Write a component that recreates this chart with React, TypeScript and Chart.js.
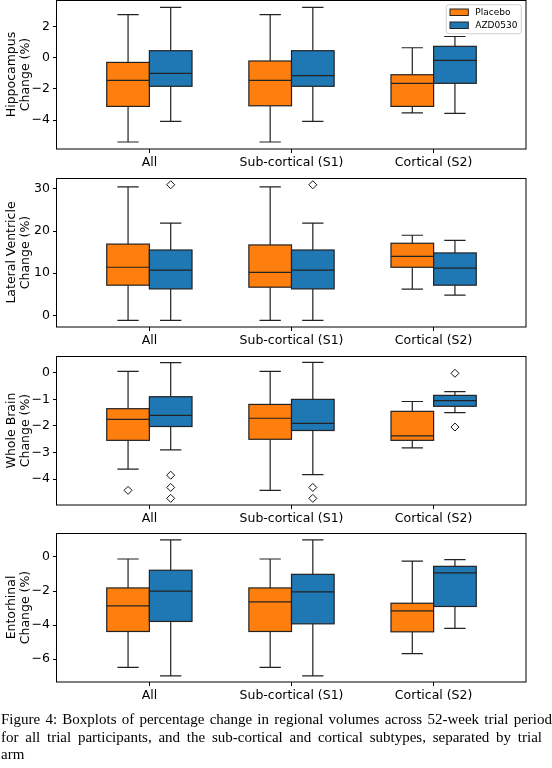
import React, { useEffect, useRef } from 'react';
import { Chart, registerables } from 'chart.js';

Chart.register(...registerables);

const categories = ['All', 'Sub-cortical (S1)', 'Cortical (S2)'];
const arms = ['Placebo', 'AZD0530'];
const armColors = ['#ff7f0e', '#1f77b4'];

// each row: [whisker low, Q1, median, Q3, whisker high]
const hippocampusPlacebo = [
  [-5.4, -3.12, -1.45, -0.3, 2.76],
  [-5.4, -3.08, -1.45, -0.21, 2.76],
  [-3.53, -3.12, -1.64, -1.09, 0.64],
];
const hippocampusAZD = [
  [-4.08, -1.83, -1.0, 0.45, 3.23],
  [-4.08, -1.83, -1.15, 0.45, 3.23],
  [-3.57, -1.64, -0.17, 0.73, 1.36],
];
const hippocampusPlaceboOut: number[][] = [[], [], []];
const hippocampusAZDOut: number[][] = [[], [], []];

const ventriclePlacebo = [
  [-1.2, 7.14, 11.4, 16.9, 30.5],
  [-1.2, 6.67, 10.2, 16.7, 30.5],
  [6.2, 11.4, 14.0, 17.1, 19.0],
];
const ventricleAZD = [
  [-1.2, 6.26, 10.7, 15.5, 21.9],
  [-1.2, 6.26, 10.7, 15.5, 21.9],
  [4.76, 7.14, 11.2, 14.8, 17.8],
];
const ventriclePlaceboOut: number[][] = [[], [], []];
const ventricleAZDOut: number[][] = [[31.0], [31.0], []];

const brainPlacebo = [
  [-3.62, -2.54, -1.75, -1.35, 0.05],
  [-4.42, -2.5, -1.71, -1.19, 0.05],
  [-2.82, -2.54, -2.37, -1.45, -1.08],
];
const brainAZD = [
  [-2.9, -2.02, -1.6, -0.9, 0.38],
  [-3.83, -2.17, -1.9, -1.0, 0.39],
  [-1.5, -1.26, -1.05, -0.85, -0.71],
];
const brainPlaceboOut: number[][] = [[-4.42], [], []];
const brainAZDOut: number[][] = [[-3.85, -4.31, -4.72], [-4.31, -4.72], [-0.02, -2.04]];

const entorhinalPlacebo = [
  [-6.49, -4.38, -2.87, -1.82, -0.12],
  [-6.49, -4.38, -2.64, -1.82, -0.12],
  [-5.68, -4.4, -3.17, -2.72, -0.24],
];
const entorhinalAZD = [
  [-6.99, -3.79, -2.01, -0.78, 1.0],
  [-6.99, -3.93, -2.05, -1.02, 1.0],
  [-4.2, -2.91, -0.94, -0.55, -0.16],
];
const entorhinalPlaceboOut: number[][] = [[], [], []];
const entorhinalAZDOut: number[][] = [[], [], []];

const hippocampusTicks = [-4, -2, 0, 2];
const ventricleTicks = [0, 10, 20, 30];
const brainTicks = [-4, -3, -2, -1, 0];
const entorhinalTicks = [-6, -4, -2, 0];

const captionLines = [
  'Figure 4: Boxplots of percentage change in regional volumes across 52-week trial period',
  'for all trial participants, and the sub-cortical and cortical subtypes, separated by trial',
  'arm',
];

type Panel = {
  title: string[];
  stats: number[][][];
  outliers: number[][][];
  yMin: number;
  yMax: number;
  ticks: number[];
  top: number;
  legend: boolean;
};

const panels: Panel[] = [
  { title: ['Hippocampus', 'Change (%)'], stats: [hippocampusPlacebo, hippocampusAZD], outliers: [hippocampusPlaceboOut, hippocampusAZDOut], yMin: -5.85, yMax: 3.7, ticks: hippocampusTicks, top: 0, legend: true },
  { title: ['Lateral Ventricle', 'Change (%)'], stats: [ventriclePlacebo, ventricleAZD], outliers: [ventriclePlaceboOut, ventricleAZDOut], yMin: -2.79, yMax: 32.6, ticks: ventricleTicks, top: 178.3, legend: false },
  { title: ['Whole Brain', 'Change (%)'], stats: [brainPlacebo, brainAZD], outliers: [brainPlaceboOut, brainAZDOut], yMin: -4.97, yMax: 0.63, ticks: brainTicks, top: 356, legend: false },
  { title: ['Entorhinal', 'Change (%)'], stats: [entorhinalPlacebo, entorhinalAZD], outliers: [entorhinalPlaceboOut, entorhinalAZDOut], yMin: -7.35, yMax: 1.41, ticks: entorhinalTicks, top: 533.3, legend: false },
];

const BOX_W = 0.3;
const PAD_TOP = 6;
const PLOT_H = 149;
const XAXIS_H = 24;
const CANVAS_H = PAD_TOP + PLOT_H + XAXIS_H;
const EDGE = '#222222';
const FONT = 'DejaVu Sans';

function armLeft(arm: number, cat: number) {
  return arm === 0 ? cat - BOX_W : cat;
}

function makePlugin(panel: Panel) {
  return {
    id: 'boxplot',
    beforeDatasetsDraw(chart: any) {
      const ctx = chart.ctx as CanvasRenderingContext2D;
      const xs = chart.scales.x;
      const ys = chart.scales.y;
      const a = chart.chartArea;
      ctx.save();
      ctx.beginPath();
      ctx.rect(a.left, a.top, a.right - a.left, a.bottom - a.top);
      ctx.clip();
      ctx.lineWidth = 1.2;
      ctx.strokeStyle = EDGE;
      panel.stats.forEach((armStats, arm) => {
        armStats.forEach((s, cat) => {
          const [lo, q1, med, q3, hi] = s;
          const l = armLeft(arm, cat);
          const c = l + BOX_W / 2;
          const px = xs.getPixelForValue(c);
          const capL = xs.getPixelForValue(c - BOX_W / 4);
          const capR = xs.getPixelForValue(c + BOX_W / 4);
          ctx.beginPath();
          ctx.moveTo(px, ys.getPixelForValue(q1));
          ctx.lineTo(px, ys.getPixelForValue(lo));
          ctx.moveTo(px, ys.getPixelForValue(q3));
          ctx.lineTo(px, ys.getPixelForValue(hi));
          ctx.moveTo(capL, ys.getPixelForValue(lo));
          ctx.lineTo(capR, ys.getPixelForValue(lo));
          ctx.moveTo(capL, ys.getPixelForValue(hi));
          ctx.lineTo(capR, ys.getPixelForValue(hi));
          ctx.stroke();
          const bx0 = xs.getPixelForValue(l);
          const bx1 = xs.getPixelForValue(l + BOX_W);
          const by0 = ys.getPixelForValue(q3);
          const by1 = ys.getPixelForValue(q1);
          ctx.fillStyle = armColors[arm];
          ctx.fillRect(bx0, by0, bx1 - bx0, by1 - by0);
          ctx.strokeRect(bx0, by0, bx1 - bx0, by1 - by0);
          ctx.beginPath();
          ctx.moveTo(bx0, ys.getPixelForValue(med));
          ctx.lineTo(bx1, ys.getPixelForValue(med));
          ctx.stroke();
        });
      });
      ctx.restore();
    },
    afterDraw(chart: any) {
      const ctx = chart.ctx as CanvasRenderingContext2D;
      const a = chart.chartArea;
      ctx.save();
      ctx.strokeStyle = '#000';
      ctx.lineWidth = 1;
      ctx.strokeRect(Math.round(a.left) - 0.5, Math.round(a.top) + 0.5, Math.round(a.right - a.left) + 0.5, Math.round(a.bottom - a.top) - 0.5);
      if (panel.legend) {
        const lw = 75;
        const lh = 29;
        const lx = a.right - 4.7 - lw;
        const ly = a.top + 4.7;
        ctx.beginPath();
        if ((ctx as any).roundRect) (ctx as any).roundRect(lx, ly, lw, lh, 2.5);
        else ctx.rect(lx, ly, lw, lh);
        ctx.fillStyle = 'rgba(255,255,255,0.8)';
        ctx.fill();
        ctx.strokeStyle = '#d0d0d0';
        ctx.lineWidth = 1;
        ctx.stroke();
        arms.forEach((name, i) => {
          const py = ly + 4.3 + i * 13;
          ctx.fillStyle = armColors[i];
          ctx.fillRect(lx + 3.7, py, 18.3, 6.5);
          ctx.strokeStyle = EDGE;
          ctx.lineWidth = 1;
          ctx.strokeRect(lx + 3.7, py, 18.3, 6.5);
          ctx.fillStyle = '#000';
          ctx.font = `9px "${FONT}"`;
          ctx.textBaseline = 'middle';
          ctx.textAlign = 'left';
          ctx.fillText(name, lx + 29, py + 3.5);
        });
      }
      ctx.restore();
    },
  };
}

function fmt(v: number) {
  return v < 0 ? '\u2212' + String(Math.abs(v)) : String(v);
}

function BoxPanel({ panel }: { panel: Panel }) {
  const ref = useRef<HTMLCanvasElement | null>(null);
  useEffect(() => {
    if (!ref.current) return;
    const datasets = panel.outliers.map((armOut, arm) => ({
      label: arms[arm],
      data: armOut.flatMap((vals, cat) => vals.map((v) => ({ x: armLeft(arm, cat) + BOX_W / 2, y: v }))),
      pointStyle: 'rectRot',
      radius: 4,
      pointRadius: 4,
      backgroundColor: '#ffffff',
      borderColor: '#111111',
      borderWidth: 1,
    }));
    const chart = new Chart(ref.current, {
      type: 'scatter',
      data: { datasets } as any,
      options: {
        animation: false,
        responsive: false,
        devicePixelRatio: 1,
        layout: { padding: { top: PAD_TOP, right: 26, left: 0, bottom: 0 } },
        plugins: { legend: { display: false }, tooltip: { enabled: false } },
        scales: {
          x: {
            type: 'linear',
            min: -0.65,
            max: 2.65,
            afterBuildTicks: (s: any) => {
              s.ticks = categories.map((_, i) => ({ value: i }));
            },
            afterFit: (s: any) => {
              s.height = XAXIS_H;
              s.paddingLeft = 0;
              s.paddingRight = 0;
            },
            ticks: {
              callback: (v: any) => categories[Math.round(Number(v))] ?? '',
              color: '#000',
              font: { family: FONT, size: 12.5 },
              padding: 2,
              maxRotation: 0,
              autoSkip: false,
            },
            grid: { drawOnChartArea: false, drawTicks: true, tickLength: 4, color: '#000' },
            border: { display: false },
          },
          y: {
            type: 'linear',
            min: panel.yMin,
            max: panel.yMax,
            afterBuildTicks: (s: any) => {
              s.ticks = panel.ticks.map((v) => ({ value: v }));
            },
            afterFit: (s: any) => {
              s.width = 57;
              s.paddingTop = 0;
              s.paddingBottom = 0;
            },
            ticks: {
              callback: (v: any) => fmt(Number(v)),
              color: '#000',
              font: { family: FONT, size: 12.5 },
              padding: 3,
            },
            grid: { drawOnChartArea: false, drawTicks: true, tickLength: 4, color: '#000' },
            border: { display: false },
            title: {
              display: true,
              text: panel.title,
              color: '#000',
              font: { family: FONT, size: 12.5, lineHeight: 1.08 },
              padding: { top: 5, bottom: 0 },
            },
          },
        },
      } as any,
      plugins: [makePlugin(panel)],
    });
    return () => chart.destroy();
  }, [panel]);
  return (
    <canvas
      ref={ref}
      width={552}
      height={CANVAS_H}
      style={{ position: 'absolute', left: 0, top: panel.top - PAD_TOP, width: 552, height: CANVAS_H }}
    />
  );
}

export default function App() {
  return (
    <div style={{ position: 'absolute', left: 0, top: 0, width: 552, height: 768, overflow: 'hidden', background: '#fff' }}>
      {panels.map((p, i) => (
        <BoxPanel key={i} panel={p} />
      ))}
      <div
        style={{
          position: 'absolute',
          left: 1,
          top: 711,
          fontFamily: '"Liberation Serif", serif',
          fontSize: 15,
          lineHeight: '17.5px',
          color: '#000',
        }}
      >
        {captionLines.map((line, i) => (
          <div
            key={i}
            style={{
              width: i === 0 ? 551 : i === 1 ? 541 : 'auto',
              textAlign: 'justify',
              textAlignLast: i < 2 ? 'justify' : 'left',
              whiteSpace: 'nowrap',
            }}
          >
            {line}
          </div>
        ))}
      </div>
    </div>
  );
}
